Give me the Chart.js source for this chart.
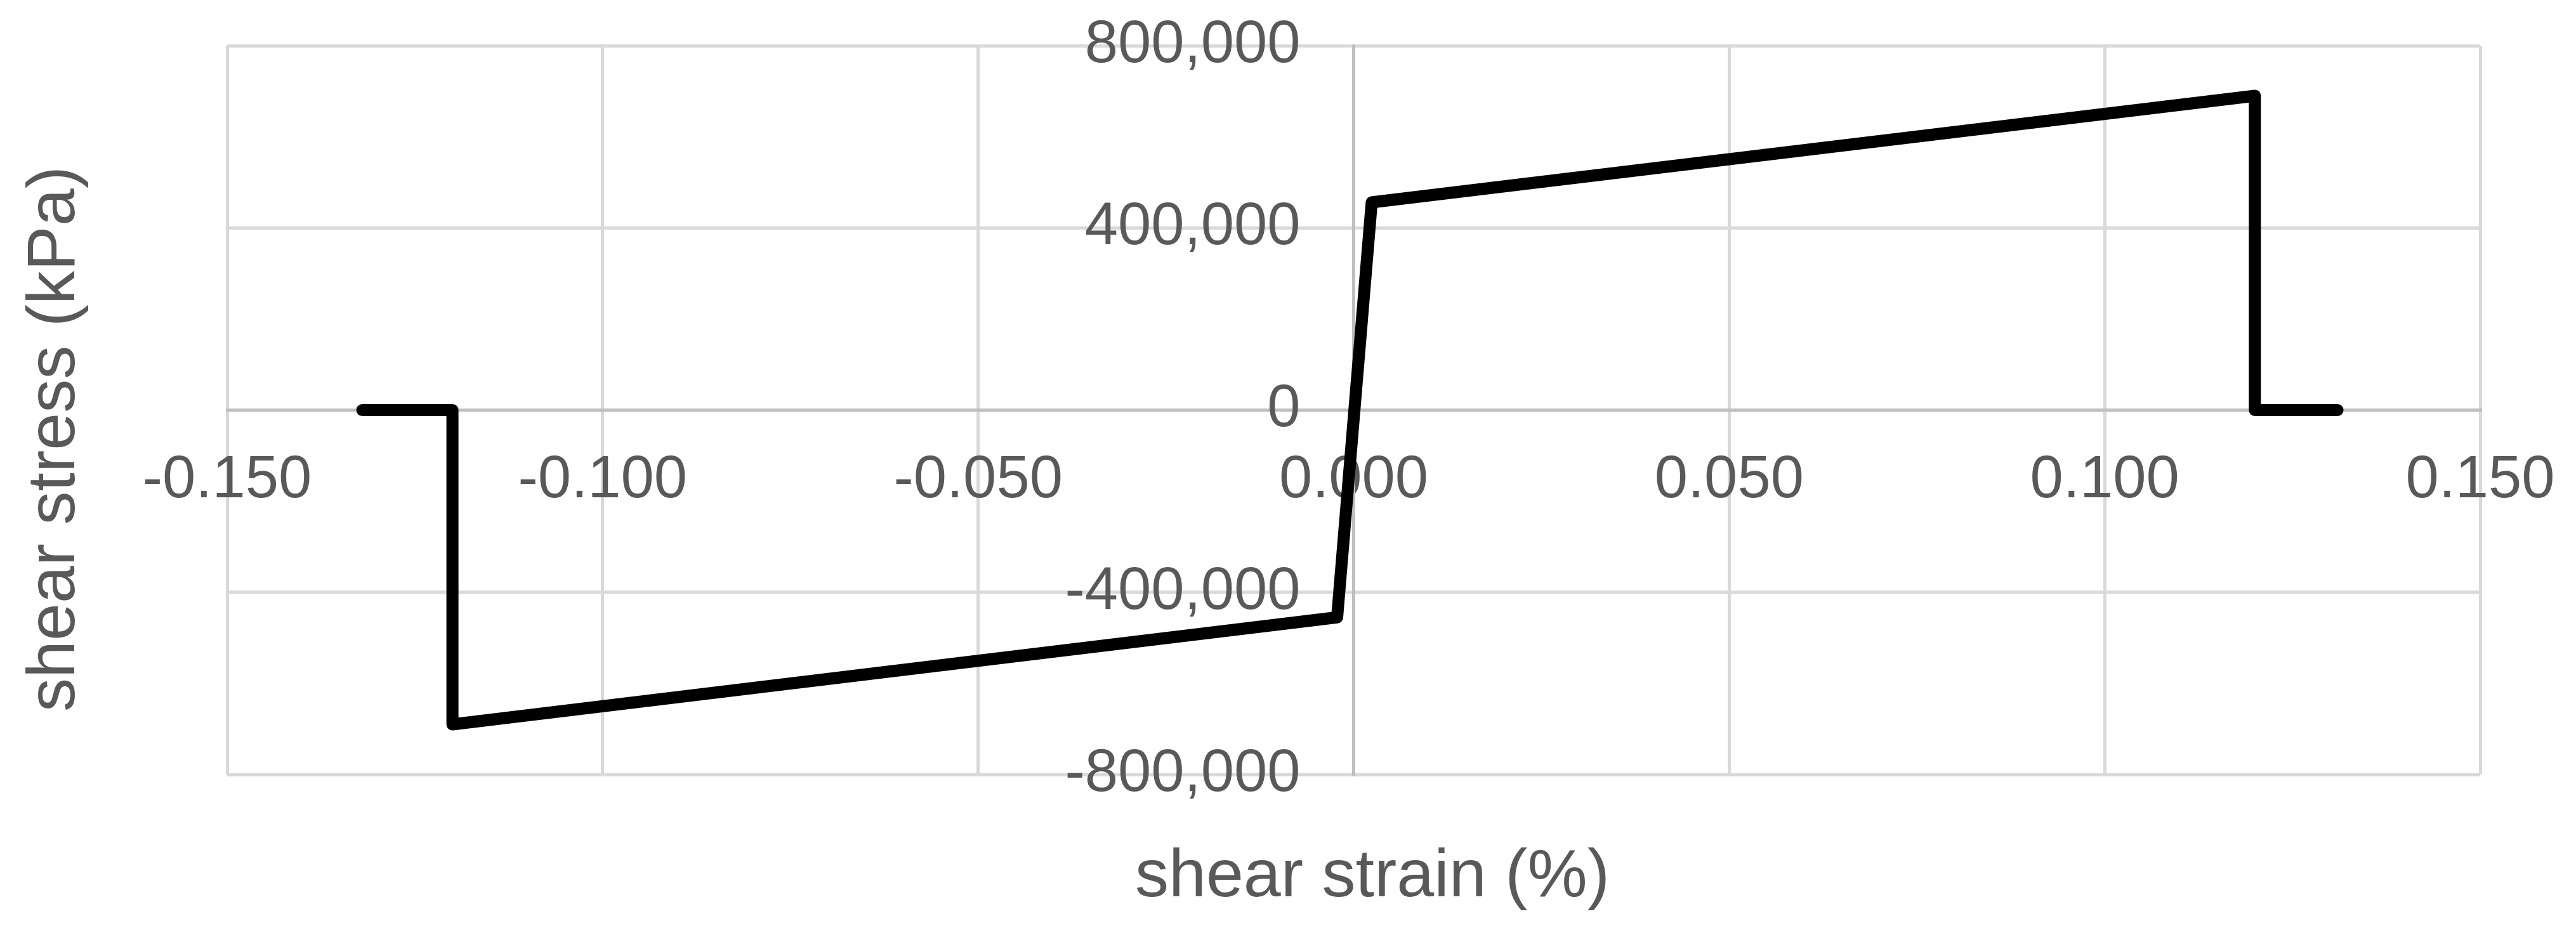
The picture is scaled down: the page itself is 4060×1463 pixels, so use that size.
<!DOCTYPE html>
<html>
<head>
<meta charset="utf-8">
<script src="https://cdn.jsdelivr.net/npm/chart.js@4/dist/chart.umd.min.js"></script>
<style>
  html, body { margin: 0; padding: 0; background: #ffffff; overflow: hidden; }
  #wrap { position: relative; width: 4060px; height: 1463px; }
  #c { position: absolute; left: 0; top: 0; }
  .ttl { position: absolute; font-family: "Liberation Sans", Arial, sans-serif; color: #595959;
         font-size: 106px; line-height: 106px; height: 106px; white-space: nowrap; text-align: center; }
  #xt { left: 1663px; top: 1323px; width: 1000px; }
  #yt { left: -420px; top: 639px; width: 1000px; transform: rotate(-90deg); transform-origin: 500px 53px; }
</style>
</head>
<body>
<div id="wrap">
  <canvas id="c" width="4060" height="1463"></canvas>
  <div class="ttl" id="xt">shear strain (%)</div>
  <div class="ttl" id="yt">shear stress (kPa)</div>
</div>
<script>
// Data
const strain = [-0.132, -0.120, -0.120, -0.0022, 0.0024, 0.120, 0.120, 0.131];
const stress = [0, 0, -690000, -455000, 456000, 690000, 0, 0];

// Tick values
const xTickValues = [-0.15, -0.10, -0.05, 0, 0.05, 0.10, 0.15];
const yTickValues = [-800000, -400000, 0, 400000, 800000];

const points = strain.map((x, i) => ({ x: x, y: stress[i] }));
const tickFont = { family: '"Liberation Sans", Arial, sans-serif', size: 94 };
const Y_LABEL_GAP = 84;

// axes cross at zero: keep them from taking layout space
const noSpace = (s) => {
  s.paddingLeft = 0; s.paddingRight = 0; s.paddingTop = 0; s.paddingBottom = 0;
  if (s.isHorizontal()) { s.height = 0; } else { s.width = 0; }
};

// shift y tick labels left of the crossing axis
const yLabelGap = {
  id: 'yLabelGap',
  beforeDraw(chart) {
    const s = chart.scales.y;
    const items = s.getLabelItems();
    items.forEach(it => {
      if (!it._shifted) {
        it.options.translation[0] -= Y_LABEL_GAP;
        it._shifted = true;
      }
    });
  }
};

new Chart(document.getElementById('c'), {
  type: 'scatter',
  data: {
    datasets: [{
      data: points,
      showLine: true,
      borderColor: '#000000',
      backgroundColor: '#000000',
      borderWidth: 19,
      borderJoinStyle: 'round',
      borderCapStyle: 'round',
      pointRadius: 0,
      pointHoverRadius: 0,
      tension: 0
    }]
  },
  plugins: [yLabelGap],
  options: {
    responsive: false,
    devicePixelRatio: 1,
    animation: false,
    events: [],
    layout: { padding: { left: 358, right: 151, top: 72, bottom: 242 } },
    plugins: { legend: { display: false }, tooltip: { enabled: false } },
    scales: {
      x: {
        type: 'linear',
        position: { y: 0 },
        min: xTickValues[0],
        max: xTickValues[xTickValues.length - 1],
        afterBuildTicks: (s) => { s.ticks = xTickValues.map(v => ({ value: v })); },
        afterFit: noSpace,
        grid: { color: '#d9d9d9', lineWidth: 5, drawTicks: false },
        border: { display: true, color: '#bfbfbf', width: 5 },
        ticks: {
          font: tickFont, color: '#595959', padding: 55, maxRotation: 0, autoSkip: false,
          callback: (v) => (Math.abs(v) < 1e-12 ? 0 : v).toFixed(3)
        }
      },
      y: {
        type: 'linear',
        position: { x: 0 },
        min: yTickValues[0],
        max: yTickValues[yTickValues.length - 1],
        afterBuildTicks: (s) => { s.ticks = yTickValues.map(v => ({ value: v })); },
        afterFit: noSpace,
        grid: { color: '#d9d9d9', lineWidth: 5, drawTicks: false },
        border: { display: true, color: '#bfbfbf', width: 5 },
        ticks: {
          font: tickFont, color: '#595959', padding: 0, autoSkip: false,
          callback: (v) => Number(v).toLocaleString('en-US')
        }
      }
    }
  }
});
</script>
</body>
</html>
